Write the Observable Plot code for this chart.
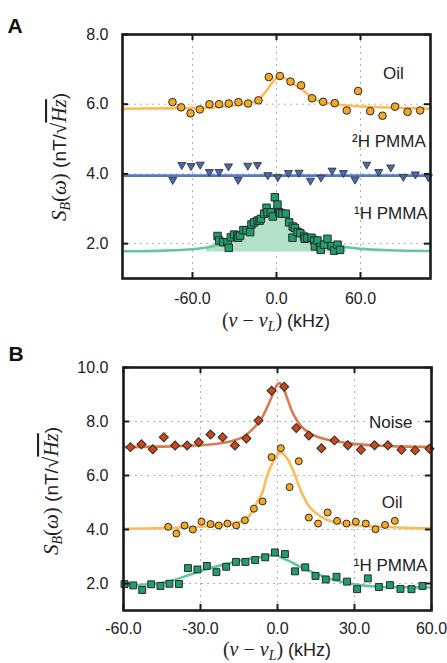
<!DOCTYPE html>
<html><head><meta charset="utf-8">
<script src="https://cdn.jsdelivr.net/npm/d3@7"></script>
<script src="https://cdn.jsdelivr.net/npm/@observablehq/plot@0.6"></script>
<style>
body{margin:0;background:#fff;}
#wrap{position:relative;width:447px;height:663px;overflow:hidden;background:#fff;font-family:"Liberation Sans",Arial,sans-serif;}
#a,#b{position:absolute;left:0;}
#a{top:0}#b{top:340px}
</style></head>
<body><div id="wrap"><div id="a"></div><div id="b"></div></div>
<script>
// ---------- Panel A data ----------
const aOilX = [-74.3,-68.1,-61.4,-54.8,-47.9,-41.0,-34.1,-27.2,-20.3,-12.9,-5.5,2.4,10.0,17.6,25.4,33.3,41.6,50.2,58.3,66.9,75.7,84.7,93.6,102.6];
const aOilY = [6.06,5.91,5.74,5.85,6.00,6.00,6.02,6.06,6.02,6.11,6.78,6.81,6.65,6.54,6.17,6.07,6.03,5.82,6.38,5.80,5.67,5.93,5.78,5.82];
const aOilFitX = [-110,-80,-60,-45,-35,-25,-18,-13,-9,-6,-3,0,2,4,7,10,14,18,22,26,30,35,42,55,70,90,110];
const aOilFitY = [5.87,5.88,5.89,5.91,5.94,6.0,6.06,6.12,6.3,6.45,6.62,6.76,6.8,6.79,6.72,6.63,6.53,6.43,6.3,6.17,6.1,6.05,6.0,5.95,5.92,5.89,5.87];

const aDX = [-74.1,-67.6,-61.0,-54.5,-47.9,-41.0,-34.3,-27.4,-20.5,-13.6,-6.2,0.9,8.5,16.1,24.2,31.8,39.7,47.8,56.1,64.4,73.0,81.6,90.6,99.2,108.5];
const aDY = [3.83,4.26,4.23,4.27,4.06,4.06,4.22,3.83,4.24,4.26,3.97,3.91,4.03,4.04,3.81,3.90,4.10,4.03,3.84,4.27,4.06,4.19,3.92,3.99,3.91];
const aDFitX = [-110,110];
const aDFitY = [3.95,3.95];

const aHX = [-42.1,-41.0,-38.1,-35.0,-34.1,-32.6,-30.3,-27.9,-27.4,-26.0,-23.6,-21.4,-18.8,-17.9,-16.0,-13.6,-12.1,-11.2,-8.8,-7.1,-6.4,-4.1,-2.6,-1.2,0.7,1.9,2.6,4.3,6.6,9.0,11.4,11.6,13.1,15.0,16.9,19.7,20.2,22.1,25.0,26.9,27.4,29.3,31.2,31.6,34.0,36.4,39.3,41.1,43.6,45.4];
const aHY = [2.22,2.09,2.04,2.04,1.88,2.18,2.26,2.23,2.17,2.23,2.39,2.38,2.33,2.55,2.61,2.66,2.66,2.71,2.86,3.03,2.90,2.90,2.78,3.33,3.12,2.90,2.87,2.86,2.86,2.61,2.17,2.49,2.45,2.33,2.30,2.20,2.14,2.16,2.17,2.09,1.92,2.09,1.90,1.82,1.97,2.14,1.93,1.80,1.97,1.82];
const aHFitX = [-110,-80,-60,-50,-45,-35,-25,-18,-12,-7,-3,0,3,7,12,18,25,35,45,50,60,80,110];
const aHFitY = [1.78,1.8,1.84,1.89,1.93,2.05,2.22,2.4,2.6,2.8,2.95,3.02,2.95,2.8,2.6,2.4,2.2,2.03,1.93,1.9,1.85,1.81,1.79];
const aHFillRange = [-55, 50];
const aHFillBase = 1.76;

const aXTicks = [-60, 0, 60];
const aYTicks = [2, 4, 6, 8];

// ---------- Panel B data ----------
const bNoiseX = [-57.3,-53.0,-48.6,-44.3,-39.9,-35.2,-30.7,-26.1,-21.4,-16.6,-12.1,-7.4,-2.3,2.6,7.3,12.2,17.1,22.2,27.4,32.5,37.8,43.0,48.3,53.6,59.2];
const bNoiseY = [7.05,7.16,6.97,7.42,7.11,7.11,7.23,7.52,7.42,7.11,7.37,8.04,9.14,9.29,7.76,7.48,7.01,7.30,7.12,6.95,7.12,7.12,6.95,6.93,6.99];
const bNoiseFitX = [-60,-45,-35,-25,-18,-13,-9,-6,-3,-1,0,1,2,4,6,9,12,16,22,30,40,50,60];
const bNoiseFitY = [7.05,7.07,7.1,7.16,7.27,7.45,7.78,8.15,8.75,9.2,9.38,9.42,9.3,8.8,8.3,7.85,7.6,7.42,7.28,7.17,7.1,7.07,7.06];

const bOilX = [-42.6,-39.4,-36.2,-33.0,-29.6,-26.1,-22.9,-19.5,-16.1,-12.7,-9.2,-5.8,-2.3,1.3,4.7,8.3,12.2,15.8,19.5,23.2,26.9,30.5,34.4,38.2,41.9,45.7];
const bOilY = [4.10,3.85,4.15,4.00,4.29,4.20,4.15,4.22,4.15,4.34,4.77,5.04,6.68,7.01,5.57,6.53,4.44,4.22,4.63,4.32,4.22,4.29,4.22,4.01,4.17,4.32];
const bOilFitX = [-60,-45,-35,-25,-18,-14,-11,-9,-6,-4,-2,0,1,2,4,6,8,10,12,15,19,24,30,40,50,60];
const bOilFitY = [4.03,4.05,4.08,4.13,4.2,4.3,4.5,4.83,5.35,6.0,6.45,6.78,6.83,6.82,6.6,6.2,5.7,5.25,4.9,4.6,4.37,4.24,4.16,4.1,4.06,4.04];

const bHX = [-59.6,-56.2,-52.7,-49.2,-45.6,-42.1,-38.4,-34.9,-31.2,-27.5,-23.8,-20.0,-16.2,-12.5,-8.7,-4.8,-1.0,2.9,6.8,10.8,14.8,18.8,23.0,27.1,31.0,35.2,39.5,43.8,47.9,52.2,56.5];
const bHY = [1.98,1.93,1.76,1.97,1.91,1.99,1.98,2.57,2.52,2.65,2.42,2.62,2.80,2.80,2.87,2.97,3.15,3.09,2.45,2.60,2.28,2.15,2.25,2.07,1.79,2.19,1.87,1.94,1.80,1.79,1.91];
const bHFitX = [-60,-52,-45,-40,-35,-30,-25,-20,-15,-10,-5,-1,3,6,9,14,18,22,28,33,40,50,60];
const bHFitY = [1.93,1.96,2.03,2.14,2.3,2.46,2.6,2.72,2.84,2.93,3.0,3.05,2.9,2.76,2.62,2.4,2.26,2.13,2.01,1.93,1.88,1.86,1.85];

const bXTicks = [-60, -30, 0, 30, 60];
const bYTicks = [2, 4, 6, 8, 10];

// ---------- styles ----------
const C = {
  oilFill: "#f6a723", oilLine: "#fdbb55",
  dFill: "#4a6aaf", dLine: "#5877c2",
  hFill: "#1f9d6c", hLine: "#66c6a0", hArea: "#b3e0c9",
  nFill: "#c9481c", nLine: "#dc7a4e",
  edge: "#2a2a2a", grid: "#b0b0b0", frame: "#1a1a1a"
};
const FONT = "Liberation Sans, Arial, sans-serif";
const MATH = "Liberation Serif, DejaVu Serif, serif";
const pts = (xs, ys) => xs.map((x, i) => ({x, y: ys[i]}));
const fmt = d => d.toFixed(1);

function gridMarks(xTicks, yTicks) {
  return [
    Plot.gridX(xTicks, {stroke: C.grid, strokeOpacity: 1, strokeDasharray: "2,4", strokeWidth: 1}),
    Plot.gridY(yTicks, {stroke: C.grid, strokeOpacity: 1, strokeDasharray: "2,4", strokeWidth: 1}),
  ];
}
function tickMarks(xTicks, yTicks, pw, ph) {
  const L = 6;
  return [
    Plot.tickX(xTicks, {x: d => d, insetBottom: ph - L, stroke: C.frame, strokeWidth: 2}),
    Plot.tickX(xTicks, {x: d => d, insetTop: ph - L, stroke: C.frame, strokeWidth: 2}),
    Plot.tickY(yTicks, {y: d => d, insetRight: pw - L, stroke: C.frame, strokeWidth: 2}),
    Plot.tickY(yTicks, {y: d => d, insetLeft: pw - L, stroke: C.frame, strokeWidth: 2}),
  ];
}

// ---------- Panel A ----------
{
  const W = 447, H = 340, mt = 34, mb = 62, ml = 122, mr = 17;
  const pw = W - ml - mr, ph = H - mt - mb;
  const fill = pts(aHFitX, aHFitY).filter(d => d.x >= aHFillRange[0] && d.x <= aHFillRange[1]);
  const chart = Plot.plot({
    width: W, height: H, marginTop: mt, marginBottom: mb, marginLeft: ml, marginRight: mr,
    style: {fontFamily: FONT, fontSize: "16px", color: "#222", background: "#fff"},
    x: {domain: [-110, 110]},
    y: {domain: [1, 8]},
    marks: [
      ...gridMarks(aXTicks, aYTicks),
      Plot.areaY(fill, {x: "x", y1: aHFillBase, y2: "y", fill: C.hArea, fillOpacity: 1, curve: "catmull-rom"}),
      Plot.line(pts(aOilFitX, aOilFitY), {x: "x", y: "y", stroke: C.oilLine, strokeWidth: 2.6, curve: "catmull-rom", clip: true}),
      Plot.line(pts(aDFitX, aDFitY), {x: "x", y: "y", stroke: C.dLine, strokeWidth: 2.6, clip: true}),
      Plot.line(pts(aHFitX, aHFitY), {x: "x", y: "y", stroke: C.hLine, strokeWidth: 2.6, curve: "catmull-rom", clip: true}),
      Plot.dot(pts(aOilX, aOilY), {x: "x", y: "y", r: 3.8, fill: C.oilFill, stroke: C.edge, strokeWidth: 1}),
      Plot.dot(pts(aDX, aDY), {x: "x", y: "y", symbol: "triangle", rotate: 180, r: 3.0, fill: C.dFill, stroke: C.edge, strokeWidth: 0.8}),
      Plot.dot(pts(aHX, aHY), {x: "x", y: "y", symbol: "square", r: 4.2, fill: C.hFill, stroke: C.edge, strokeWidth: 1}),
      Plot.text(["Oil"], {x: 91, y: 6.88, text: d => d, textAnchor: "end", fontSize: 17, fill: "#222"}),
      Plot.text(["²H PMMA"], {x: 106.6, y: 4.93, text: d => d, textAnchor: "end", fontSize: 17, fill: "#222"}),
      Plot.text(["¹H PMMA"], {x: 108, y: 2.86, text: d => d, textAnchor: "end", fontSize: 17, fill: "#222"}),
      ...tickMarks(aXTicks, aYTicks, pw, ph),
      Plot.axisX(aXTicks, {tickSize: 0, tickPadding: 14, tickFormat: fmt, fontSize: 16, label: null}),
      Plot.axisY(aYTicks, {tickSize: 0, tickPadding: 14, tickFormat: fmt, fontSize: 16, label: null}),
      Plot.frame({stroke: C.frame, strokeWidth: 2.6})
    ]
  });
  document.getElementById("a").appendChild(chart);
  decorate(chart, "A", {lx: 15, ly: 33, yx: 66, yy: 157, xx: 276, xy: 327});
}

// ---------- Panel B ----------
{
  const W = 447, H = 323, mt = 27, mb = 53, ml = 123, mr = 16;
  const pw = W - ml - mr, ph = H - mt - mb;
  const chart = Plot.plot({
    width: W, height: H, marginTop: mt, marginBottom: mb, marginLeft: ml, marginRight: mr,
    style: {fontFamily: FONT, fontSize: "16px", color: "#222", background: "#fff"},
    x: {domain: [-60, 60]},
    y: {domain: [1, 10]},
    marks: [
      ...gridMarks([-30, 0, 30], [2, 4, 6, 8]),
      Plot.line(pts(bNoiseFitX, bNoiseFitY), {x: "x", y: "y", stroke: C.nLine, strokeWidth: 2.6, curve: "catmull-rom", clip: true}),
      Plot.line(pts(bOilFitX, bOilFitY), {x: "x", y: "y", stroke: C.oilLine, strokeWidth: 2.6, curve: "catmull-rom", clip: true}),
      Plot.line(pts(bHFitX, bHFitY), {x: "x", y: "y", stroke: C.hLine, strokeWidth: 2.6, curve: "catmull-rom", clip: true}),
      Plot.text(["Noise"], {x: 52.6, y: 7.97, text: d => d, textAnchor: "end", fontSize: 17, fill: "#222", stroke: "white", strokeWidth: 6}),
      Plot.dot(pts(bNoiseX, bNoiseY), {x: "x", y: "y", symbol: "square", rotate: 45, r: 3.6, fill: C.nFill, stroke: C.edge, strokeWidth: 1}),
      Plot.dot(pts(bOilX, bOilY), {x: "x", y: "y", r: 3.5, fill: C.oilFill, stroke: C.edge, strokeWidth: 1}),
      Plot.dot(pts(bHX, bHY), {x: "x", y: "y", symbol: "square", r: 3.9, fill: C.hFill, stroke: C.edge, strokeWidth: 1}),
      Plot.text(["Oil"], {x: 48.7, y: 5.0, text: d => d, textAnchor: "end", fontSize: 17, fill: "#222"}),
      Plot.text(["¹H PMMA"], {x: 58.4, y: 2.68, text: d => d, textAnchor: "end", fontSize: 17, fill: "#222"}),
      ...tickMarks(bXTicks, bYTicks, pw, ph),
      Plot.axisX(bXTicks, {tickSize: 0, tickPadding: 12, tickFormat: fmt, fontSize: 16, label: null}),
      Plot.axisY(bYTicks, {tickSize: 0, tickPadding: 15, tickFormat: fmt, fontSize: 16, label: null}),
      Plot.frame({stroke: C.frame, strokeWidth: 2.6})
    ]
  });
  document.getElementById("b").appendChild(chart);
  decorate(chart, "B", {lx: 16, ly: 21, yx: 58, yy: 151, xx: 277, xy: 316});
}

function decorate(svg, letter, p) {
  const s = d3.select(svg);
  s.append("text").attr("x", p.lx).attr("y", p.ly).attr("font-family", FONT)
    .attr("font-weight", "bold").attr("font-size", 21).attr("fill", "#111").text(letter);
  // y label
  const t = s.append("text").attr("transform", `translate(${p.yx},${p.yy}) rotate(-90)`)
    .attr("text-anchor", "middle").attr("font-size", 19).attr("fill", "#222").attr("font-family", FONT);
  t.append("tspan").attr("font-family", MATH).attr("font-style", "italic").attr("font-size", 21).text("S");
  t.append("tspan").attr("font-family", MATH).attr("font-style", "italic").attr("font-size", 14).attr("dy", 4).text("B");
  t.append("tspan").attr("font-family", MATH).attr("font-size", 21).attr("dy", -4).text("(");
  t.append("tspan").attr("font-family", MATH).attr("font-style", "italic").attr("font-size", 21).text("ω");
  t.append("tspan").attr("font-family", MATH).attr("font-size", 21).text(")");
  t.append("tspan").text(" (nT/");
  t.append("tspan").attr("font-family", MATH).attr("font-size", 21).text("√");
  t.append("tspan").attr("font-family", MATH).attr("font-style", "italic").attr("font-size", 21).attr("text-decoration", "overline").text("Hz");
  t.append("tspan").text(")");
  // x label
  const u = s.append("text").attr("x", p.xx).attr("y", p.xy).attr("text-anchor", "middle")
    .attr("font-size", 18).attr("fill", "#222").attr("font-family", FONT);
  u.append("tspan").attr("font-family", MATH).attr("font-size", 20).text("(");
  u.append("tspan").attr("font-family", MATH).attr("font-style", "italic").attr("font-size", 20).text("ν");
  u.append("tspan").attr("font-family", MATH).attr("font-size", 20).text(" − ");
  u.append("tspan").attr("font-family", MATH).attr("font-style", "italic").attr("font-size", 20).text("ν");
  u.append("tspan").attr("font-family", MATH).attr("font-style", "italic").attr("font-size", 14).attr("dy", 4).text("L");
  u.append("tspan").attr("font-family", MATH).attr("font-size", 20).attr("dy", -4).text(")");
  u.append("tspan").text(" (kHz)");
}
</script></body></html>
